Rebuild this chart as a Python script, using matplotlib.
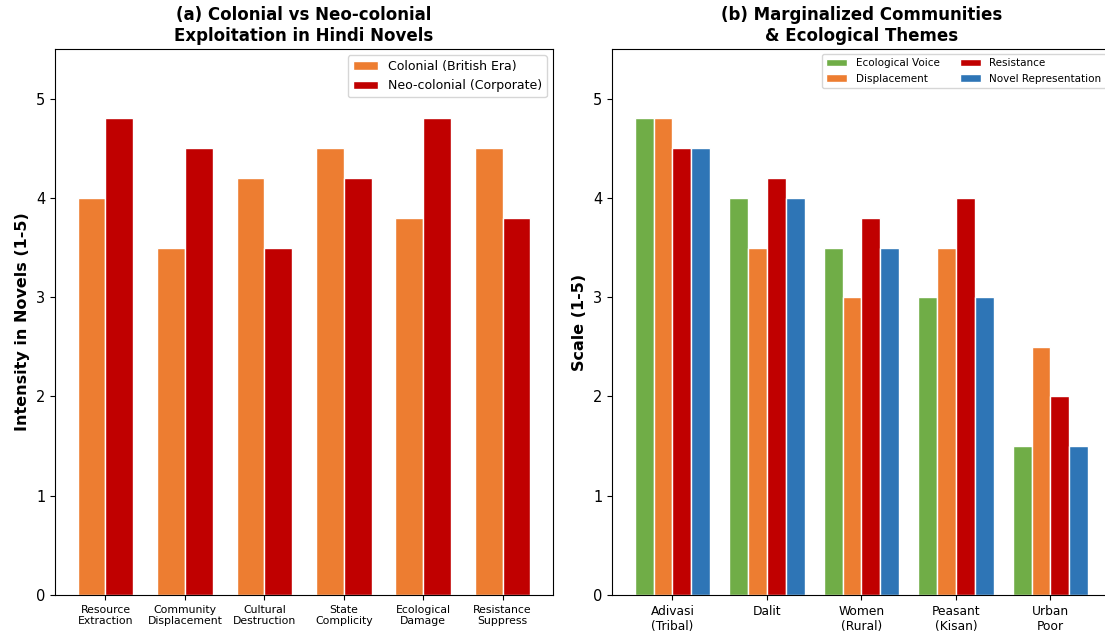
import numpy as np
import matplotlib.pyplot as plt

# (a) colonial vs neo-colonial
themes = ['Resource\nExtraction', 'Community\nDisplacement', 'Cultural\nDestruction',
          'State\nComplicity', 'Ecological\nDamage', 'Resistance\nSuppress']
colonial = [4.0, 3.5, 4.2, 4.5, 3.8, 4.5]
neo_colonial = [4.8, 4.5, 3.5, 4.2, 4.8, 3.8]

# (b) marginalized communities
communities = ['Adivasi\n(Tribal)', 'Dalit', 'Women\n(Rural)', 'Peasant\n(Kisan)', 'Urban\nPoor']
eco_voice = [4.8, 4.0, 3.5, 3.0, 1.5]
displacement = [4.8, 3.5, 3.0, 3.5, 2.5]
resistance = [4.5, 4.2, 3.8, 4.0, 2.0]
novel_rep = [4.5, 4.0, 3.5, 3.0, 1.5]

fig = plt.figure(figsize=(11.05, 6.32), dpi=100)
# right panel runs slightly past the figure edge, as in the reference
ax1 = fig.add_axes([0.0498, 0.0585, 0.4507, 0.864])
ax2 = fig.add_axes([0.5538, 0.0585, 0.4516, 0.864])

x = np.arange(len(themes))
w = 0.35
ax1.bar(x - w/2, colonial, w, color='#ED7D31', edgecolor='white', label='Colonial (British Era)')
ax1.bar(x + w/2, neo_colonial, w, color='#C00000', edgecolor='white', label='Neo-colonial (Corporate)')
ax1.set_xticks(x)
ax1.set_xticklabels(themes, fontsize=7.8)
ax1.set_ylim(0, 5.5)
ax1.tick_params(axis='y', labelsize=10.5)
ax1.set_ylabel('Intensity in Novels (1-5)', fontsize=11.5, fontweight='bold')
ax1.set_title('(a) Colonial vs Neo-colonial\nExploitation in Hindi Novels', fontsize=12, fontweight='bold')
ax1.legend(loc='upper right', fontsize=9)

x2 = np.arange(len(communities))
w2 = 0.2
series = [(eco_voice, '#70AD47', 'Ecological Voice'),
          (displacement, '#ED7D31', 'Displacement'),
          (resistance, '#C00000', 'Resistance'),
          (novel_rep, '#2E75B6', 'Novel Representation')]
for i, (vals, c, lab) in enumerate(series):
    ax2.bar(x2 + (i - 1.5) * w2, vals, w2, color=c, edgecolor='white', label=lab)
ax2.set_xticks(x2)
ax2.set_xticklabels(communities, fontsize=8.8)
ax2.set_ylim(0, 5.5)
ax2.tick_params(axis='y', labelsize=10.5)
ax2.set_ylabel('Scale (1-5)', fontsize=11.5, fontweight='bold')
ax2.set_title('(b) Marginalized Communities\n& Ecological Themes', fontsize=12, fontweight='bold')
ax2.legend(loc='upper right', fontsize=7.5, ncol=2)

plt.savefig('out.png', dpi=100)
